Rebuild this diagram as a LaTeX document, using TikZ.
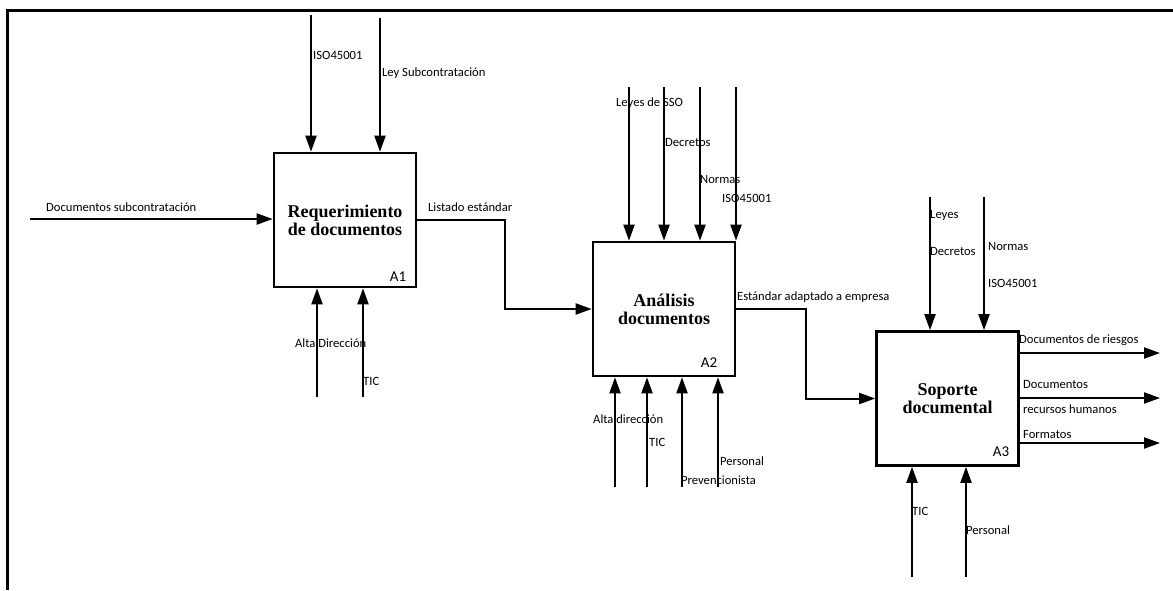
\documentclass[tikz,border=0pt]{standalone}
\usepackage{fontspec}
\setmainfont{Carlito}
\newfontfamily\titlefont{Liberation Serif}
\usetikzlibrary{arrows.meta,calc}

\tikzset{
  proc/.style={draw, line width=2.6pt, minimum width=142pt, minimum height=134pt,
    align=center, inner sep=0pt, font=\titlefont\bfseries\fontsize{18}{18}\selectfont},
  flow/.style={line width=2pt, -{Triangle[length=16pt,width=11pt]}},
  lbl/.style={anchor=west, inner sep=0pt, font=\fontsize{12.6}{12.6}\selectfont},
  tag/.style={inner sep=0pt, font=\fontsize{15}{15}\selectfont},
}

\begin{document}
\begin{tikzpicture}[x=1pt,y=-1pt]
    \useasboundingbox (0,0) rectangle (1173,590);
    % frame
    \draw[line width=3pt] (1173,10) -- (7,10) -- (7,590);

    % activity boxes
    \node[proc] (A1) at (345,220) {Requerimiento\\de documentos};
    \node[proc] (A2) at (664,309) {Análisis\\documentos};
    \node[proc] (A3) at (947.5,398.5) {Soporte\\documental};
    \node[tag] (t1) at (398,277) {A1};
    \node[tag] (t2) at (709,363) {A2};
    \node[tag] (t3) at (1001,452) {A3};

    % A1
    \coordinate (in1) at (30,219);
    \draw[flow] (in1) -- (in1 -| A1.west);
    \node[lbl] (lin1) at (46,207) {Documentos subcontratación};
    \coordinate (c11) at (311,15);
    \coordinate (c12) at (380,18);
    \draw[flow] (c11) -- (c11 |- A1.north);
    \draw[flow] (c12) -- (c12 |- A1.north);
    \node[lbl] (lc11) at (313,55) {ISO45001};
    \node[lbl] (lc12) at (382,73) {Ley Subcontratación};
    \coordinate (m11) at (317,397);
    \coordinate (m12) at (363,397);
    \draw[flow] (m11) -- (m11 |- A1.south);
    \draw[flow] (m12) -- (m12 |- A1.south);
    \node[lbl] (lm11) at (295,343) {Alta Dirección};
    \node[lbl] (lm12) at (363,381) {TIC};

    % A1 -> A2
    \coordinate (b1) at ($(A1.east)!0.5!(A2.west)$);
    \draw[flow] (A1.east) -| (b1) |- (A2.west);
    \node[lbl] (lo1) at (428,207) {Listado estándar};

    % A2
    \foreach \x [count=\i] in {629,664,700,736} {
        \coordinate (c2\i) at (\x,87);
        \draw[flow] (c2\i) -- (c2\i |- A2.north);
    }
    \node[lbl] (lc21) at (616,103) {Leyes de SSO};
    \node[lbl] (lc22) at (665,142) {Decretos};
    \node[lbl] (lc23) at (700,179) {Normas};
    \node[lbl] (lc24) at (722,198) {ISO45001};
    \foreach \x [count=\i] in {615,647,682,718} {
        \coordinate (m2\i) at (\x,487);
        \draw[flow] (m2\i) -- (m2\i |- A2.south);
    }
    \node[lbl] (lm21) at (593,419) {Alta dirección};
    \node[lbl] (lm22) at (649,442) {TIC};
    \node[lbl] (lm23) at (720,461) {Personal};
    \node[lbl] (lm24) at (681,480) {Prevencionista};

    % A2 -> A3
    \coordinate (b2) at ($(A2.east)!0.5!(A3.west)$);
    \draw[flow] (A2.east) -| (b2) |- (A3.west);
    \node[lbl] (lo2) at (737,297) {Estándar adaptado a empresa};

    % A3
    \coordinate (c31) at (930,197);
    \coordinate (c32) at (984,197);
    \draw[flow] (c31) -- (c31 |- A3.north);
    \draw[flow] (c32) -- (c32 |- A3.north);
    \node[lbl] (lc31) at (930,215) {Leyes};
    \node[lbl] (lc32) at (930,251) {Decretos};
    \node[lbl] (lc33) at (988,246) {Normas};
    \node[lbl] (lc34) at (988,283) {ISO45001};
    \foreach \y [count=\i] in {353,398,443} {
        \coordinate (o3\i) at (1160,\y);
        \draw[flow] (A3.east |- o3\i) -- (o3\i);
    }
    \node[lbl] (lo31) at (1019,340) {Documentos de riesgos};
    \node[lbl] (lo32) at (1023,384) {Documentos};
    \node[lbl] (lo33) at (1023,409) {recursos humanos};
    \node[lbl] (lo34) at (1023,434) {Formatos};
    \coordinate (m31) at (912,577);
    \coordinate (m32) at (966,577);
    \draw[flow] (m31) -- (m31 |- A3.south);
    \draw[flow] (m32) -- (m32 |- A3.south);
    \node[lbl] (lm31) at (912,511) {TIC};
    \node[lbl] (lm32) at (966,530) {Personal};
\end{tikzpicture}
\end{document}
